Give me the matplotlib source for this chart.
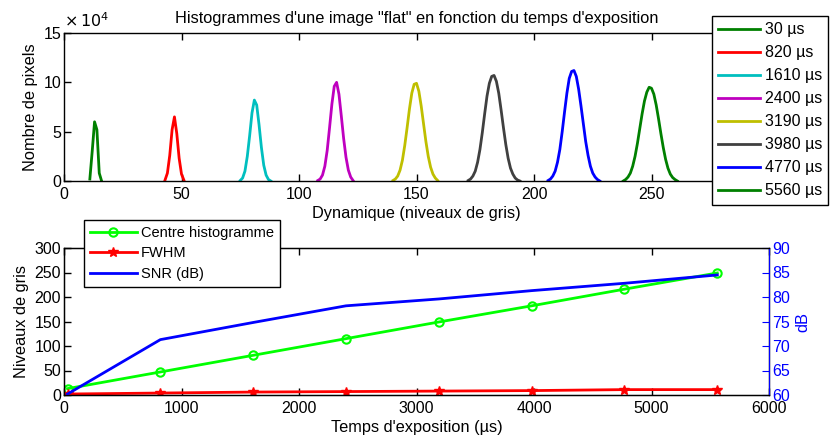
import numpy as np
import matplotlib
matplotlib.use("Agg")
import matplotlib.pyplot as plt
from matplotlib.ticker import FuncFormatter


# --------------------------------------------------
# Data
# --------------------------------------------------

exposures = [30, 820, 1610, 2400, 3190, 3980, 4770, 5560]
hist_labels = ["30 µs", "820 µs", "1610 µs", "2400 µs",
               "3190 µs", "3980 µs", "4770 µs", "5560 µs"]
hist_colors = [(0, 0.5, 0), (1, 0, 0), (0, 0.75, 0.75), (0.75, 0, 0.75),
               (0.75, 0.75, 0), (0.25, 0.25, 0.25), (0, 0, 1), (0, 0.5, 0)]

# histogram counts (x 1e4) starting at the first grey level of each peak
hist_start = [11, 43, 75, 108, 140, 172, 206, 238]
hist_30 = [0.2, 3.0, 6.0, 5.2, 0.8, 0.0]
hist_820 = [0.1, 0.8, 2.6, 5.2, 6.5, 4.8, 2.3, 0.7, 0.1]
hist_1610 = [0.05, 0.3, 1.0, 2.5, 4.6, 6.9, 8.2, 7.7, 5.7, 3.4, 1.6, 0.6,
             0.15, 0.0]
hist_2400 = [0.05, 0.2, 0.6, 1.5, 3.1, 5.4, 7.8, 9.6, 10.0, 8.8, 6.6, 4.3,
             2.4, 1.1, 0.4, 0.05]
hist_3190 = [0.05, 0.2, 0.5, 1.1, 2.1, 3.6, 5.4, 7.3, 8.9, 9.8, 9.9, 9.1,
             7.6, 5.8, 4.0, 2.5, 1.4, 0.7, 0.3, 0.05]
hist_3980 = [0.05, 0.2, 0.5, 1.0, 1.9, 3.2, 4.9, 6.8, 8.6, 9.9, 10.6, 10.7,
             10.1, 8.9, 7.2, 5.4, 3.7, 2.3, 1.3, 0.7, 0.3, 0.1, 0.0]
hist_4770 = [0.05, 0.2, 0.5, 1.0, 1.9, 3.2, 5.0, 7.0, 8.9, 10.4, 11.1, 11.2,
             10.6, 9.3, 7.6, 5.8, 4.0, 2.6, 1.5, 0.8, 0.4, 0.15, 0.0]
hist_5560 = [0.0, 0.15, 0.4, 0.8, 1.5, 2.5, 3.8, 5.3, 6.8, 8.1, 9.0, 9.5,
             9.4, 8.8, 7.7, 6.3, 4.8, 3.4, 2.2, 1.3, 0.7, 0.35, 0.15, 0.0]
hist_counts = [hist_30, hist_820, hist_1610, hist_2400,
               hist_3190, hist_3980, hist_4770, hist_5560]

centre = [13, 47, 81, 115, 149, 182, 216, 249]
fwhm = [2, 4, 6, 7, 8, 9, 11, 11]
snr_db = [60.2, 71.3, 74.8, 78.2, 79.6, 81.3, 82.8, 84.5]


plt.rcParams["font.family"] = ["Liberation Sans", "DejaVu Sans"]
plt.rcParams["font.size"] = 11.5
LABEL_FS = 11.8

W, H = 835, 441
fig = plt.figure(figsize=(W / 100, H / 100), dpi=100)


def box(x0, y0, x1, y1):
    return [x0 / W, 1 - y1 / H, (x1 - x0) / W, (y1 - y0) / H]


def matlab_ticks(ax, right=True):
    ax.tick_params(direction="in", top=True, right=right, length=5,
                   width=1, pad=2)
    ax.tick_params(axis="x", pad=4)
    for s in ax.spines.values():
        s.set_linewidth(1)


# --------------------------------------------------
# Histograms
# --------------------------------------------------

ax1 = fig.add_axes(box(64, 33, 769, 181))

for start, counts, col, lab in zip(hist_start, hist_counts,
                                   hist_colors, hist_labels):
    lev = np.arange(start, start + len(counts))
    ax1.plot(lev, np.array(counts) * 1e4, color=col, lw=2, label=lab)

ax1.set_xlim(0, 300)
ax1.set_ylim(0, 15e4)
# the 300 label sits under the legend in the original
ax1.set_xticks([0, 50, 100, 150, 200, 250])
ax1.set_yticks([0, 5e4, 10e4, 15e4])
ax1.yaxis.set_major_formatter(FuncFormatter(lambda v, p: f"{v / 1e4:g}"))
ax1.text(0, 1.02, r"$\times\,10^4$", transform=ax1.transAxes,
         ha="left", va="bottom", fontsize=11.5)
matlab_ticks(ax1)
ax1.set_title("Histogrammes d'une image \"flat\" en fonction du temps d'exposition",
              fontsize=LABEL_FS, pad=7)
ax1.set_xlabel("Dynamique (niveaux de gris)", fontsize=LABEL_FS, labelpad=3)
ax1.set_ylabel("Nombre de pixels", fontsize=LABEL_FS, labelpad=4)

leg1 = fig.legend(loc="upper left", bbox_to_anchor=(712 / W, 1 - 16 / H),
                  fancybox=False, edgecolor="black", framealpha=1,
                  fontsize=11.5, handlelength=2.6, labelspacing=0.5,
                  borderaxespad=0, handletextpad=0.3, borderpad=0.4)
leg1.get_frame().set_linewidth(1)
leg1.set_zorder(10)

# --------------------------------------------------
# Centre / FWHM / SNR
# --------------------------------------------------

ax2 = fig.add_axes(box(64, 248, 769, 395))

ax2.plot(exposures, centre, color=(0, 1, 0), lw=2, marker="o",
         mfc="none", ms=6, mew=1.5, label="Centre histogramme")
ax2.plot(exposures, fwhm, color=(1, 0, 0), lw=2, marker="*",
         ms=7, label="FWHM")

ax2.set_xlim(0, 6000)
ax2.set_ylim(0, 300)
ax2.set_xticks(range(0, 6001, 1000))
ax2.set_yticks(range(0, 301, 50))
matlab_ticks(ax2, right=False)
ax2.set_xlabel("Temps d'exposition (µs)", fontsize=LABEL_FS, labelpad=3)
ax2.set_ylabel("Niveaux de gris", fontsize=LABEL_FS, labelpad=4)

ax3 = ax2.twinx()
ax3.plot(exposures, snr_db, color=(0, 0, 1), lw=2, label="SNR (dB)")
ax3.set_ylim(60, 90)
ax3.set_yticks(range(60, 91, 5))
ax3.tick_params(direction="in", length=5, colors=(0, 0, 1), pad=2)
ax3.spines["right"].set_color((0, 0, 1))
ax3.set_ylabel("dB", color=(0, 0, 1), fontsize=LABEL_FS, labelpad=4)

lines2, labels2 = ax2.get_legend_handles_labels()
lines3, labels3 = ax3.get_legend_handles_labels()
leg2 = ax3.legend(lines2 + lines3, labels2 + labels3, loc="upper left",
                  bbox_to_anchor=(84 / W, 1 - 220 / H),
                  bbox_transform=fig.transFigure,
                  fancybox=False, edgecolor="black", framealpha=1,
                  fontsize=10.5, handlelength=3.2, labelspacing=0.45,
                  borderaxespad=0, handletextpad=0.3, borderpad=0.4)
leg2.get_frame().set_linewidth(1)

fig.savefig("out.png", dpi=100)
